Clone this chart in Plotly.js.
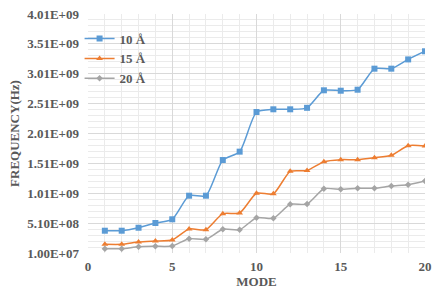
<!DOCTYPE html>
<html><head><meta charset="utf-8">
<script src="https://cdn.plot.ly/plotly-3.0.1.min.js"></script>
<style>html,body{margin:0;padding:0;background:#fff}#c{width:446px;height:297px}</style>
</head><body><div id="c"></div>
<script>
var modes = [1,2,3,4,5,6,7,8,9,10,11,12,13,14,15,16,17,18,19,20];
var freq10 = [3.83e8,3.83e8,4.33e8,5.12e8,5.74e8,9.69e8,9.69e8,1.566e9,1.706e9,2.37e9,2.415e9,2.415e9,2.44e9,2.733e9,2.726e9,2.743e9,3.095e9,3.095e9,3.25e9,3.386e9];
var freq15 = [1.56e8,1.56e8,1.94e8,2.11e8,2.28e8,4.12e8,4.0e8,6.68e8,6.79e8,1.009e9,1.0e9,1.377e9,1.39e9,1.538e9,1.572e9,1.572e9,1.605e9,1.645e9,1.806e9,1.8e9];
var freq20 = [8.2e7,8.2e7,1.15e8,1.22e8,1.27e8,2.49e8,2.39e8,4.07e8,4.0e8,6.01e8,5.9e8,8.25e8,8.3e8,1.086e9,1.076e9,1.093e9,1.093e9,1.131e9,1.153e9,1.215e9];
var seriesNames = ["10 Å","15 Å","20 Å"];
var yTickVals = [1.0e7,5.1e8,1.01e9,1.51e9,2.01e9,2.51e9,3.01e9,3.51e9,4.01e9];
var yTickText = ["1.00E+07","5.10E+08","1.01E+09","1.51E+09","2.01E+09","2.51E+09","3.01E+09","3.51E+09","4.01E+09"];
var xTickVals = [0,5,10,15,20];

var font = "Liberation Serif, Times New Roman, serif";
var txt = "#595959";
function tr(y, name, color, sym, size){
  return {x: modes, y: y, name: name, type: "scatter", mode: "lines+markers",
    line: {color: color, width: 1.5, shape: "spline", smoothing: 0.6},
    marker: {color: color, symbol: sym, size: size}};
}
var data = [
  tr(freq10, seriesNames[0], "#5B9BD5", "square", 6),
  tr(freq15, seriesNames[1], "#ED7D31", "triangle-up", 6),
  tr(freq20, seriesNames[2], "#A5A5A5", "diamond", 5)
];
var layout = {
  width: 446, height: 297,
  margin: {l: 88, r: 21, t: 14, b: 44},
  paper_bgcolor: "#fff", plot_bgcolor: "#fff",
  font: {family: font, color: txt, size: 12},
  showlegend: true,
  legend: {x: -0.025, y: 0.96, xanchor: "left", yanchor: "top", bgcolor: "rgba(0,0,0,0)",
    font: {family: font, size: 13, color: txt, weight: "bold"}, tracegroupgap: 0},
  xaxis: {range: [0, 20], tickvals: xTickVals, showgrid: true, gridcolor: "#D9D9D9", gridwidth: 1,
    zeroline: false, showline: false, ticks: "", ticklabelstandoff: 4,
    tickfont: {family: font, size: 13, color: txt, weight: "bold"},
    minor: {dtick: 1, tick0: 0, showgrid: true, gridcolor: "#EBEBEB", gridwidth: 1},
    title: {text: "MODE", font: {family: font, size: 13, color: txt, weight: "bold"}, standoff: 0}},
  yaxis: {range: [1e7, 4.01e9], tickvals: yTickVals, ticktext: yTickText, showgrid: true,
    gridcolor: "#D9D9D9", gridwidth: 1, zeroline: false, showline: false, ticks: "",
    ticklabelstandoff: 8,
    tickfont: {family: font, size: 13, color: txt, weight: "bold"},
    minor: {dtick: 1e8, tick0: 1e7, showgrid: true, gridcolor: "#EBEBEB", gridwidth: 1},
    title: {text: "FREQUENCY(Hz)", font: {family: font, size: 13, color: txt, weight: "bold"}, standoff: 4}}
};
Plotly.newPlot("c", data, layout, {displayModeBar: false, staticPlot: true});
</script></body></html>
